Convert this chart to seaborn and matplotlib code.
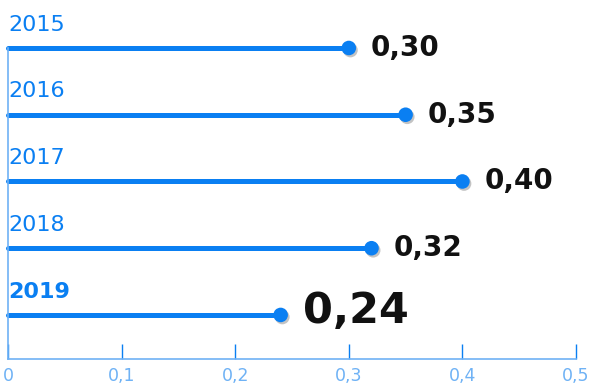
import matplotlib
matplotlib.use('Agg')
import matplotlib.pyplot as plt
import matplotlib.patheffects as pe
import seaborn as sns
import pandas as pd
import numpy as np

# data
years = ["2015", "2016", "2017", "2018", "2019"]
values = [0.30, 0.35, 0.40, 0.32, 0.24]
xticks = [0, 0.1, 0.2, 0.3, 0.4, 0.5]
xtick_labels = ["0", "0,1", "0,2", "0,3", "0,4", "0,5"]

blue = "#0a7ff2"
light = "#6fb2f5"

sns.set_style("white")
plt.rcParams['font.family'] = ['DejaVu Sans']

df = pd.DataFrame({"year": years, "value": values, "pos": np.arange(len(years))})

fig = plt.figure(figsize=(5.93, 3.85), dpi=100)
ax = fig.add_axes([8 / 593, 1 - 359 / 385, 568 / 593, (359 - 48) / 385])

# stems
ax.hlines(df["pos"], 0, df["value"], color=blue, lw=3.6, capstyle="round", zorder=2, clip_on=False)
# dots with a soft shadow
sns.scatterplot(data=df, x="value", y="pos", ax=ax, s=110, color=blue, edgecolor="none",
                zorder=3, legend=False, clip_on=False,
                path_effects=[pe.SimplePatchShadow(offset=(1.2, -1.5), shadow_rgbFace="#555555", alpha=0.35), pe.Normal()])

last = len(years) - 1
for i, (yr, v) in enumerate(zip(years, values)):
    big = i == last
    ax.text(0.0, i - 0.2, yr, color=blue, fontsize=16,
            fontweight="bold" if big else "normal", ha="left", va="bottom", clip_on=False)
    lab = f"{v:.2f}".replace(".", ",")
    ax.annotate(lab, (v, i), xytext=(16, 0 if not big else 3), textcoords="offset points",
                fontsize=31 if big else 20, fontweight="heavy", color="#111111",
                ha="left", va="center", annotation_clip=False)

ax.set_xlim(0, 0.5)
ax.set_ylim(len(years) - 1 + 0.66, 0)
ax.set_xlabel("")
ax.set_ylabel("")
ax.set_yticks([])
ax.set_xticks(xticks)
ax.set_xticklabels(xtick_labels, color=light, fontsize=12.5)
ax.tick_params(axis="x", bottom=True, direction="in", length=11, width=1, color=blue, pad=6)

for s in ["top", "right"]:
    ax.spines[s].set_visible(False)
for s in ["left", "bottom"]:
    ax.spines[s].set_color(light)
    ax.spines[s].set_linewidth(1.2)

fig.savefig("out.png", dpi=100)
